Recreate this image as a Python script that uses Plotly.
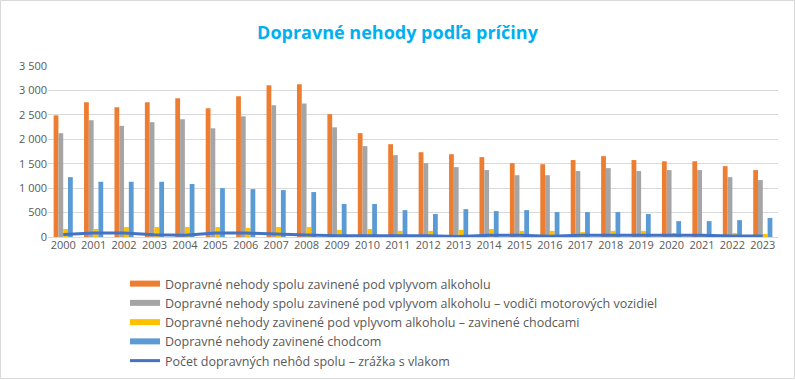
import plotly.graph_objects as go

years = [str(y) for y in range(2000, 2024)]

alkohol_spolu = [2490, 2760, 2655, 2760, 2840, 2635, 2880, 3105, 3125, 2515, 2125, 1900, 1735, 1695,
                 1635, 1510, 1490, 1575, 1655, 1575, 1550, 1550, 1450, 1370]
alkohol_vodici = [2125, 2390, 2275, 2350, 2410, 2225, 2470, 2695, 2735, 2245, 1860, 1675, 1510, 1430,
                  1370, 1265, 1265, 1350, 1410, 1350, 1370, 1370, 1225, 1165]
alkohol_chodci = [165, 165, 205, 205, 205, 205, 185, 205, 205, 145, 165, 125, 125, 145,
                  165, 125, 125, 100, 125, 125, 80, 60, 80, 60]
chodci = [1225, 1130, 1130, 1130, 1085, 1000, 980, 960, 920, 675, 675, 550, 470, 570,
          530, 550, 510, 510, 510, 470, 325, 325, 345, 390]
vlak = [50, 80, 80, 45, 35, 80, 80, 68, 42, 28, 28, 28, 28, 10,
        34, 34, 15, 34, 34, 34, 34, 34, 18, 18]

names = [
    "Dopravné nehody spolu zavinené pod vplyvom alkoholu",
    "Dopravné nehody spolu zavinené pod vplyvom alkoholu – vodiči motorových vozidiel",
    "Dopravné nehody zavinené pod vplyvom alkoholu – zavinené chodcami",
    "Dopravné nehody zavinené chodcom",
    "Počet dopravných nehôd spolu – zrážka s vlakom",
]
colors = ["#ED7D31", "#A5A5A5", "#FFC000", "#5B9BD5", "#4472C4"]
bar_series = [alkohol_spolu, alkohol_vodici, alkohol_chodci, chodci]

fig = go.Figure()
for vals, name, col in zip(bar_series, names[:4], colors[:4]):
    fig.add_trace(go.Bar(x=years, y=vals, name=name, marker_color=col,
                         marker_line_width=0, showlegend=False))
fig.add_trace(go.Scatter(x=years, y=vlak, name=names[4], mode="lines",
                         line=dict(color=colors[4], width=3), showlegend=False))

# legend entries
for name, col in zip(names[:4], colors[:4]):
    fig.add_trace(go.Scatter(x=[None], y=[None], mode="lines", name=name,
                             line=dict(color=col, width=6)))
fig.add_trace(go.Scatter(x=[None], y=[None], mode="lines", name=names[4],
                         line=dict(color=colors[4], width=3)))

L, R, T, B = 48, 778, 66, 237
W, H = 795, 380
pw, ph = R - L, B - T

def px(x):
    return (x - L) / pw

def py(y):
    return (B - y) / ph

fig.update_layout(
    width=W, height=H,
    margin=dict(l=L, r=W - R, t=T, b=H - B, pad=0, autoexpand=False),
    paper_bgcolor="white", plot_bgcolor="white",
    font=dict(family="Open Sans", color="#595959", size=11),
    separators=", ",
    barmode="group", bargap=0.37, bargroupgap=0,
    title=dict(text="<b>Dopravné nehody podľa príčiny</b>", x=0.5, xanchor="center",
               y=1 - 26 / H, yanchor="top",
               font=dict(family="Open Sans", size=18, color="#00B0F0")),
    xaxis=dict(type="category", showgrid=False, showline=False, ticks="",
               tickfont=dict(size=11, color="#595959"), fixedrange=True, automargin=False),
    yaxis=dict(range=[0, 3500], dtick=500, tickformat=",d", showgrid=True,
               gridcolor="#D9D9D9", gridwidth=1, zeroline=True, zerolinecolor="#D9D9D9",
               zerolinewidth=1, showline=False, ticks="", automargin=False,
               tickfont=dict(size=11, color="#595959")),
    legend=dict(x=px(125), y=py(269), xanchor="left", yanchor="top",
                font=dict(size=12.5, color="#595959"), tracegroupgap=0,
                itemwidth=30, bgcolor="rgba(0,0,0,0)"),
    shapes=[dict(type="rect", xref="paper", yref="paper",
                 x0=px(0.5), x1=px(794.5), y0=py(378.5), y1=py(0.5),
                 line=dict(color="#D9D9D9", width=1), fillcolor="rgba(0,0,0,0)",
                 layer="below")],
)

fig.write_html("out.html", config={"displayModeBar": False},
               post_script="document.body.style.margin='0px';document.body.style.overflow='hidden';")
